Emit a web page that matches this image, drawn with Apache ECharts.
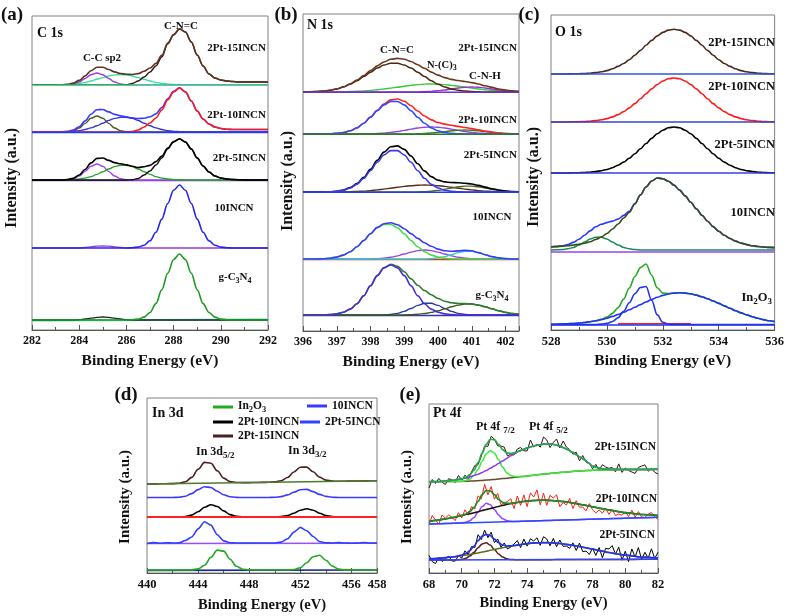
<!DOCTYPE html>
<html><head><meta charset="utf-8">
<script src="https://cdn.jsdelivr.net/npm/echarts/dist/echarts.min.js"></script>
<style>html,body{margin:0;padding:0;background:#fff}#c{width:787px;height:616px}</style>
</head><body><div id="c"></div>
<script>
function seq(a,b,s){const r=[];for(let k=0;a+k*s<=b+1e-9;k++)r.push(Math.round((a+k*s)*100)/100);return r;}
// ---------- x grids ----------
const A_X = seq(282,292,0.25), A_EDGE=[282,292];
const B_X = seq(396,402.4,0.2), B_EDGE=[396,402.4];
const C_X = seq(528,536,0.2), C_EDGE=[528,536], C_RED=[530.4,533];
const D_X = seq(440,458,0.5), D_EDGE=[440,458];
const E_X = [68,68.5,69,69.5].concat(seq(70,78,0.25)).concat([78.5,79,79.5,80,81,82]);
const E_RX = seq(68,82,0.2), E_EDGE=[68,82];
// ---------- panel (a) C 1s ----------
const a_g_main=[10,10,10,10,10,10,10,10,10,10,10,10,10,10,10,10,10,10.3,10.9,12.9,17.5,26.4,40.2,56.7,70.5,76,70.5,56.7,40.2,26.4,17.5,12.9,10.9,10.3,10,10,10,10,10,10,10];
const a_g_cc=[10,10,10,10,10,10,10,10,10.4,11,11.8,12.6,13,12.6,11.8,11,10.4,10,10,10,10,10,10,10,10,10,10,10,10,10,10,10,10,10,10,10,10,10,10,10,10];
const a_g_base=[9.6,10.4];
const a_10_main=[82,82,82,82,82,82,82,82,82,82,82,82,82,82,82,82,82,82.3,82.9,84.8,89.2,97.7,110.9,126.5,139.8,145,139.8,126.5,110.9,97.7,89.2,84.8,82.9,82.3,82,82,82,82,82,82,82];
const a_10_cc=[82,82,82,82,82,82,82,82,82,82.5,83.2,83.8,84,83.8,83.2,82.5,82,82,82,82,82,82,82,82,82,82,82,82,82,82,82,82,82,82,82,82,82,82,82,82,82];
const a_5_env=[150,150,150,150,150,150,150.5,151.8,155,160.5,167.1,171.6,172,169.6,167.4,166.2,165.1,163.7,162.5,163.3,164.6,168.4,173.9,182,188.4,191.2,188,181,172,164,158,154,152,151,150.5,150.2,150,150,150,150,150];
const a_5_main=[150,150,150,150,150,150,150,150,150,150,150,150,150,150,150,150,150,150.3,151.5,155,159,165,172,181,188,191,188,181,172,164,158,154,152,151,150.5,150.2,150,150,150,150,150];
const a_5_cc1=[150,150,150,150,150,150,150.3,151.4,154,158.6,163.7,166,163.7,158.6,154,151.4,150.3,150,150,150,150,150,150,150,150,150,150,150,150,150,150,150,150,150,150,150,150,150,150,150,150];
const a_5_cc2=[150,150,150,150,150,150,150.2,150.4,151,151.9,153.4,155.6,158.3,161,163.4,164.8,164.8,163.4,161,158.3,155.6,153.4,151.9,151,150.4,150.2,150,150,150,150,150,150,150,150,150,150,150,150,150,150,150];
const a_10i_env=[198,198,198,198,198,198.1,198.6,200,203.3,209.1,215.8,220.2,220.5,218.1,215.6,214.2,213.1,212.1,211.5,211.8,213.2,216.1,222.5,231.3,238.6,242.3,238.1,229,219,211,206,203,201.5,200.8,200.5,200.5,200.5,200.5,200.5,200.5,200.5];
const a_10i_main=[198,198,198,198,198,198,198,198,198,198,198,198,198,198,198,198,198,198.5,200,203,207,212,220,230,238,242,238,229,219,211,206,203,201.5,200.8,200.5,200.5,200.5,200.5,200.5,200.5,200.5];
const a_10i_cc1=[198,198,198,198,198,198,198.3,199.4,202,206.6,211.7,214,211.7,206.6,202,199.4,198.3,198,198,198,198,198,198,198,198,198,198,198,198,198,198,198,198,198,198,198,198,198,198,198,198];
const a_10i_cc2=[198,198,198,198,198,198.1,198.3,198.6,199.3,200.5,202.1,204.2,206.8,209.5,211.6,212.8,212.8,211.6,209.5,206.8,204.2,202.1,200.5,199.3,198.6,198.3,198.1,198,198,198,198,198,198,198,198,198,198,198,198,198,198];
const a_15_env=[245,245,245,245,245,245.2,245.8,246.9,249.6,254.1,259.3,262.7,262.7,260.5,258.1,256.5,255.7,255.5,256.4,258.7,262,266.6,274.6,286.9,295.5,301.2,298,288,275,264,256,252,250,249,248.5,248,248,248,248,248,248];
const a_15_main=[245,245,245,245,245,245,245,245,245,245,245,245,245,245,245,245,245.3,246.5,249,253,258,264,273,286,295,301,298,288,275,264,256,252,250,249,248.5,248,248,248,248,248,248];
const a_15_cc1=[245,245,245,245,245,245,245.3,246,248,251.5,255.3,257,255.3,251.5,248,246,245.3,245,245,245,245,245,245,245,245,245,245,245,245,245,245,245,245,245,245,245,245,245,245,245,245];
const a_15_cc2=[245,245,245,245,245,245.2,245.5,245.9,246.6,247.6,249,250.7,252.4,254,255.1,255.5,255.1,254,252.4,250.7,249,247.6,246.6,245.9,245.5,245.2,245,245,245,245,245,245,245,245,245,245,245,245,245,245,245];
// ---------- panel (b) N 1s ----------
const b_g_main=[16,16,16,16,16.4,17.1,18.7,21.9,27.3,35.3,45.3,55.4,63.1,66,63.1,55.4,45.3,35.3,27.3,21.9,18.7,17.1,16.4,16,16,16,16,16,16,16,16,16,16];
const b_g_env=[16,16,16,16,16.4,17.1,18.7,21.9,27.3,35.3,45.3,55.4,63.3,66.6,64.7,59.2,52.2,45.7,40.5,36.2,32.5,29.8,28.2,27.5,27.5,27.1,25.9,24.2,22.2,20.2,18.6,17.5,16.8];
const b_g_c2=[16,16,16,16,16,16,16,16,16,16,16,16,16.2,16.6,17.6,19.6,22.5,25.6,27.7,27.7,25.6,22.5,19.6,17.6,16.6,16.2,16,16,16,16,16,16,16];
const b_g_c3=[16,16,16,16,16,16,16,16,16,16,16,16,16,16,16,16.15,16.4,16.8,17.5,18.6,20.2,22.2,24.2,25.9,26.9,26.9,25.9,24.2,22.2,20.2,18.6,17.5,16.8];
const b_10_env=[72,72,72,72.3,72.8,73.9,75.9,79.2,84.2,90.5,97.3,103.6,107.3,108.2,106.3,102.3,97.4,92.6,88.2,84.7,81.9,80.2,79.7,80.1,80.6,80.2,78.4,76.3,74.4,73.1,72.4,72,72];
const b_10_main=[72,72,72,72.3,72.8,73.9,75.9,79.2,84.2,90.5,97.3,103.2,106.5,106.5,103.2,97.3,90.5,84.2,79.2,75.9,73.9,72.8,72.3,72,72,72,72,72,72,72,72,72,72];
const b_10_c2=[72,72,72,72,72,72,72,72,72,72,72,72.4,72.8,73.7,75.1,77,78.9,80.4,81,80.4,78.9,77,75.1,73.7,72.8,72.4,72,72,72,72,72,72,72];
const b_10_c3=[72,72,72,72,72,72,72,72,72,72,72,72,72,72,72,72,72,72,72,72.4,73.1,74.4,76.3,78.4,79.8,79.8,78.4,76.3,74.4,73.1,72.4,72,72];
const b_5_env=[139,139,139,139,139.3,139.8,141,143.4,147.4,153.6,161.7,170.8,178.9,184.2,185.1,181.6,175,167.2,160.1,154.4,150.9,149.1,148.5,148.3,147.8,147,145.6,143.9,142.3,141,140,139.4,139.1];
const b_5_main=[139,139,139,139,139.3,139.8,140.8,143,146.8,152.7,160.3,168.7,176,180.4,180.4,176,168.7,160.3,152.7,146.8,143,140.8,139.8,139.3,139,139,139,139,139,139,139,139,139];
const b_5_c2=[139,139,139,139,139,139,139.2,139.4,139.6,139.9,140.4,141.1,141.9,142.8,143.7,144.6,145.3,145.8,146,145.8,145.3,144.6,143.7,142.8,141.9,141.1,140.4,139.9,139.6,139.4,139.2,139,139];
const b_5_c3=[139,139,139,139,139,139,139,139,139,139,139,139,139,139,139,139,139,139.1,139.4,139.8,140.6,141.7,143,144.2,144.9,144.9,144.2,143,141.7,140.6,139.8,139.4,139.1];
const b_10i_env=[197,197,197,197,197.2,197.6,198.5,200.2,203.1,207.8,214,220.8,227,231.1,232,229.7,225.2,220,215,211.1,208.5,206.9,205.7,204.6,203.5,202.4,201.1,199.9,198.9,198,197.5,197.3,197];
const b_10i_main=[197,197,197,197,197.2,197.6,198.5,200.2,203.1,207.8,213.7,220.3,226.1,229.5,229.5,226.1,220.3,213.7,207.8,203.1,200.2,198.5,197.6,197.2,197,197,197,197,197,197,197,197,197];
const b_10i_c2=[197,197,197,197,197,197,197,197,197,197,197.3,197.5,197.9,198.6,199.5,200.6,201.9,203,203.7,204,203.7,203,201.9,200.6,199.5,198.6,197.9,197.5,197.3,197,197,197,197];
const b_10i_c3=[197,197,197,197,197,197,197,197,197,197,197,197,197,197,197,197,197,197.3,197.5,198,198.6,199.4,200.2,200.8,201,200.8,200.2,199.4,198.6,198,197.5,197.3,197];
const b_15_env=[239,239.2,239.5,239.9,240.7,242.1,244.2,247.2,251,255.4,260.4,265.1,269,271.7,272.6,271.8,269.5,266.2,262.7,258.9,255.9,253.4,251.6,250.5,249.5,248.4,247,245.2,243.6,242,241,240.1,239.6];
const b_15_main=[239,239.2,239.5,239.9,240.7,242,244,246.7,250.3,254.4,258.8,262.9,266,267.8,267.8,266,262.9,258.8,254.4,250.3,246.7,244,242,240.7,239.9,239.5,239.2,239,239,239,239,239,239];
const b_15_c2=[239,239,239,239,239,239.1,239.2,239.5,239.7,240,240.6,241.2,242,242.9,243.8,244.8,245.6,246.4,246.9,247,246.9,246.4,245.6,244.8,243.8,242.9,242,241.2,240.6,240,239.7,239.5,239.2];
const b_15_c3=[239,239,239,239,239,239,239,239,239,239,239,239,239,239,239,239,239,239,239.4,239.6,240.3,241,242,243,243.8,244,243.8,243,242,241,240.3,239.6,239.4];
// ---------- panel (c) O 1s ----------
const c_15=[256,256,256,256,256.2,256.3,256.4,256.8,257.4,258.2,259.4,261.2,263.6,266.5,270.3,274.7,279.6,284.7,289.6,294.1,297.6,299.9,300.7,299.9,297.6,294.1,289.6,284.7,279.6,274.7,270.3,266.5,263.6,261.2,259.4,258.2,257.4,256.8,256.4,256.3,256.2];
const c_10i=[208,208,208,208,208.2,208.3,208.4,208.8,209.4,210.2,211.4,213.1,215.4,218.4,222.1,226.4,231.2,236.2,241.1,245.5,249,251.2,252,251.2,249,245.5,241.1,236.2,231.2,226.4,222.1,218.4,215.4,213.1,211.4,210.2,209.4,208.8,208.4,208.3,208.2];
const c_5=[157,157,157,157,157.2,157.3,157.5,157.8,158.4,159.3,160.5,162.3,164.8,167.9,171.7,176.2,181.2,186.5,191.6,196.2,199.8,202.2,203,202.2,199.8,196.2,191.6,186.5,181.2,176.2,171.7,167.9,164.8,162.3,160.5,159.3,158.4,157.8,157.5,157.3,157.2];
const c_10_main=[83.1,83.4,83.8,84.3,85,85.8,86.8,88.2,90.5,93,96.5,101,106,112,117.5,126,135,143,149,152,151.2,148.8,144.9,139.9,134.1,127.7,121.2,114.8,108.8,103.4,98.7,94.7,91.5,88.9,86.9,85.4,84.3,83.5,83,82.6,82.4];
const c_10_c2=[80.1,80.2,80.4,81.2,82.6,84.9,87.9,90.9,92.7,92.7,90.9,87.9,84.9,82.6,81.2,80.4,80.1,80,80,80,80,80,80,80,80,80,80,80,80,80,80,80,80,80,80,80,80,80,80,80,80];
const c_10_env=[83.2,83.6,84.2,85.5,87.6,90.7,94.7,99.1,103.2,105.7,107.4,108.9,110.9,114.6,118.7,126.4,135.1,143,149,152,151.2,148.8,144.9,139.9,134.1,127.7,121.2,114.8,108.8,103.4,98.7,94.7,91.5,88.9,86.9,85.4,84.3,83.5,83,82.6,82.4];
const c_In_c1=[5.5,5.5,5.5,5.5,5.5,5.5,5.5,5.5,5.5,5.9,6.6,8.5,12.3,18.7,27.3,36.3,42.5,43.5,29.8,15.1,7.8,5.8,5.5,5.5,5.5,5.5,5.5,5.5,5.5,5.5,5.5,5.5,5.5,5.5,5.5,5.5,5.5,5.5,5.5,5.5,5.5];
const c_In_c2=[5.7,5.8,6,6.2,6.5,7,7.5,8.3,9.2,10.4,11.8,13.6,15.5,17.7,20.2,22.7,25.4,28,30.5,32.7,34.6,36,36.9,37.2,36.9,36.2,34.9,33.2,31.2,29,26.6,24.1,21.7,19.3,17.1,15.1,13.3,11.7,10.4,9.3,8.4];
const c_In_env=[5.7,5.8,6,6.2,6.5,7,7.5,8.3,9.2,10.8,12.9,16.6,22.3,30.9,42,53.5,62.4,66,54.8,42.3,36.9,36.5,36.9,37.2,36.9,36.2,34.9,33.2,31.2,29,26.6,24.1,21.7,19.3,17.1,15.1,13.3,11.7,10.4,9.3,8.4];
// ---------- panel (d) In 3d ----------
const d_In2O3=[3,3,3,3,3,3,3,3.1,4.1,7.8,15.6,22.9,21.9,13.8,6.7,3.8,3.1,3,3,3,3,3,3,3.5,5.3,10.2,16.2,17.7,12.8,6.9,3.9,3.1,3,3,3,3,3];
const d_5=[29.5,30.4,29.8,30.3,30,30.1,32.5,36,44.1,51.3,47.9,38.3,32.1,30.3,30,30,30,30,30,30,30,30.9,34.2,40.9,45.6,42.3,36.5,31.5,30.2,30,30.4,30,29.7,30,30.5,30,30];
const d_10i=[56,56,56,56,56,56,56.5,57.9,61.2,65.7,68.3,66.5,62.1,58.4,56.6,56.1,56,56,56,56,56,56.4,57.4,59.8,62.8,64.3,62.8,59.8,57.4,56.4,56.1,56,56,56,56,56,56];
const d_10=[75.5,75.5,75.5,75.5,75.5,75.8,76.8,79.4,83.4,86.3,85.5,81.8,78.2,76.3,75.6,75.5,75.5,75.5,75.5,75.5,75.7,76.4,78.1,80.8,83.3,83.6,81.4,78.6,76.6,75.8,75.5,75.5,75.5,75.5,75.5,75.5,75.5];
const d_15=[89,89.1,89.2,89.3,89.4,89.8,91.2,95.6,103.7,110.6,109.8,102.2,94.9,91.4,90.5,90.4,90.4,90.5,90.6,90.7,91.1,92.3,95.5,101,105.8,105.9,101.2,95.9,92.9,91.9,91.7,91.8,91.9,92,92.1,92.2,92.3];
// ---------- panel (e) Pt 4f ----------
const e_15_bg=[91.3,91.3,91.4,91.5,91.6,91.7,91.9,92.1,92.3,92.6,92.9,93.2,93.6,94,94.4,94.8,95.3,95.7,96.2,96.6,97.1,97.5,98,98.4,98.9,99.3,99.7,100.1,100.5,100.8,101.2,101.5,101.8,102,102.3,102.5,102.7,103,103.2,103.4,103.5,103.6,103.7];
const e_15_c1=[91.3,91.3,91.4,91.5,91.8,92.4,94.1,97.6,103.8,111.8,119.1,122.2,119.8,113.2,105.9,100.3,97.5,96.4,96.4,96.6,97.1,97.5,98,98.4,98.9,99.3,99.7,100.1,100.5,100.8,101.2,101.5,101.8,102,102.3,102.5,102.7,103,103.2,103.4,103.5,103.6,103.7];
const e_15_c2=[91.3,91.5,92,92.8,94.1,95,96.1,97.4,98.8,100.6,102.4,104.7,107.1,109.5,111.9,114.6,117.3,119.5,121.7,123.4,125.1,126.3,127.5,128.2,128.9,129,128.9,128.1,127,125.1,123.2,120.8,118.3,115.7,113.3,110,106.7,104.5,103.7,103.6,103.5,103.6,103.7];
const e_15_env=[91.3,91.5,92,92.8,94.3,95.7,98.3,102.9,110.3,119.8,128.6,133.7,133.3,128.7,123.4,120.1,119.5,120.2,121.9,123.4,125.1,126.3,127.5,128.2,128.9,129,128.9,128.1,127,125.1,123.2,120.8,118.3,115.7,113.3,110,106.7,104.5,103.7,103.6,103.5,103.6,103.7];
const e_15_raw=[85,93.5,89.5,94.6,90.8,88.5,94.3,93.1,90.5,97.6,92.8,97.9,94.2,101,107.5,108.3,117,127,126.6,136.7,133.8,127.2,126.9,125.9,117,119,118,124,125.5,122.2,122.1,133,126,128.8,125.8,136,133,125.5,130.6,134,125,132,126,123.2,118.8,120.8,112.2,117.5,110.8,109.9,104.2,108.6,102.8,108.3,106,104.7,105.6,101.1,109.1,100.6,105,102.5,101,99.6,105.6,107,108.1,101.7,104.7,100.7,99];
const e_10_bg=[49,55.7];
const e_10_c1=[49,49.2,49.5,49.7,50.2,50.7,52.3,55.6,60.8,66.5,69.7,68.3,63.6,58.1,54.3,52.4,51.7,51.5,51.6,51.8,51.9,52,52.1,52.2,52.4,52.5,52.6,52.7,52.8,53,53.1,53.2,53.3,53.4,53.6,53.7,53.8,54,54.3,54.5,54.7,55.2,55.7];
const e_10_c2=[51.6,52.7,54.1,55.6,57.4,58.4,59.3,60.3,61.3,62.5,63.5,64.5,65.6,66.6,67.6,68.5,69.4,70.1,70.8,71.5,71.9,72.3,72.6,72.7,72.8,72.7,72.5,72.2,71.8,71.4,70.8,70.1,69.4,68.6,67.9,67.1,66.2,64.6,63.1,61.6,60.3,58.5,57.5];
const e_10_env=[51.6,52.7,54.1,55.6,57.6,59,61.4,65.6,71.7,78.4,82.5,82,78.3,73.7,70.7,69.6,69.7,70.1,70.8,71.5,71.9,72.3,72.6,72.7,72.8,72.7,72.5,72.2,71.8,71.4,70.8,70.1,69.4,68.6,67.9,67.1,66.2,64.6,63.1,61.6,60.3,58.5,57.5];
const e_10_raw=[48.6,57.5,53,49,58,55,58,55.8,52.4,60.3,55.1,63.2,57.8,66.5,64.1,77.2,74,88.7,78.1,86.4,73.8,79.6,68.3,70,71.5,74.2,64.5,77,67.6,78.1,66.4,80.2,76,83.1,68.2,79.8,67.7,77.6,75,78.1,66.3,70.5,68,74.5,64.5,72.4,65.8,66,62.1,69.4,63.2,60.1,63,59.8,64.7,58.6,63.5,57.4,59,57.8,61.3,56.4,62.8,55.7,61.4,56,55.5,59,60.4,56.2,53.5];
const e_5_bg=[13,13.7];
const e_5_c1=[13,13,13,13,13.6,14.7,16.9,20.7,25.3,29.1,30.2,27.9,23.5,19.1,16,14.2,13.5,13.3,13.3,13.3,13.3,13.3,13.3,13.3,13.35,13.35,13.35,13.4,13.4,13.4,13.4,13.45,13.45,13.45,13.5,13.5,13.5,13.5,13.55,13.6,13.6,13.65,13.7];
const e_5_c2=[14.1,14.6,15.3,16.2,17.3,18,18.6,19.3,20.1,20.9,21.7,22.7,23.5,24.4,25.2,26,26.8,27.5,28.2,28.8,29.4,29.8,30.1,30.2,30.3,30.3,30.2,29.9,29.5,29,28.4,27.8,27,26.3,25.5,24.7,23.8,22.1,20.5,19,17.8,16,14.8];
const e_5_env=[14.1,14.6,15.3,16.2,17.8,19.6,22.4,26.9,32.3,36.8,38.7,37.4,33.8,30.3,28,27,27.1,27.5,28.2,28.8,29.4,29.8,30.1,30.2,30.3,30.3,30.2,29.9,29.5,29,28.4,27.8,27,26.3,25.5,24.7,23.8,22.1,20.5,19,17.8,16,14.8];
const e_5_raw=[17.6,11.3,9.5,15.7,11.5,13.8,17.1,12,11.9,17.4,14.8,22.2,18.7,26.5,25.4,38.3,33.5,42.8,35.4,40.8,30.3,34,25.8,30,24,26,29,32.4,25.4,33.9,26.9,34.2,32,35.2,27.7,36.3,34,27.2,34.6,26.3,33,26.6,27,24.6,30.1,22.5,29.9,21.3,22,18.5,24.8,17.6,25.4,15.3,24.6,24,27.4,18.8,25.8,12.8,21.8,11.4,24.1,16,25.4,13.5,20.7,15,24.2,14.5,20.8];
// ---------- axis ticks ----------
const X_RANGES=[[282,292,2],[396,402.4,1],[528,536,2],[440,458,4],[68,82,2]];
const GRIDS=[[32,16,236,314],[303,14,216,317],[551,15,226,315],[147,398,230,175],[429,404,229,169]];

const FONT='"Liberation Serif","Times New Roman",serif';
const S=[];
function add(g,xs,ys,color,w,extra){
  S.push(Object.assign({type:'line',xAxisIndex:g,yAxisIndex:g,data:xs.map((x,i)=>[x,ys[i]]),
    symbol:'none',showSymbol:false,smooth:0.35,smoothMonotone:'x',
    lineStyle:{color:color,width:w},itemStyle:{color:color},silent:true,animation:false},extra||{}));
}
// (a)
add(0,A_EDGE,a_g_base,'#3fe6b0',2);
add(0,A_X,a_g_cc,'#222',1.3);
add(0,A_X,a_g_main,'#1e9a1e',1.6);
add(0,A_X,a_10_cc,'#9a38d8',1.3);
add(0,A_X,a_10_main,'#2424ee',1.6);
add(0,A_EDGE,[149.5,149.5],'#7a3ad0',1.5);
add(0,A_X,a_5_cc1,'#a040f0',1.4);
add(0,A_X,a_5_cc2,'#28a628',1.4);
add(0,A_X,a_5_main,'#111',1.4);
add(0,A_X,a_5_env,'#000',1.6);
add(0,A_X,a_10i_cc1,'#4a5a12',1.4);
add(0,A_X,a_10i_cc2,'#3535d8',1.4);
add(0,A_X,a_10i_env,'#3a3aff',1.6);
add(0,A_X,a_10i_main,'#ff1a1a',1.6);
add(0,A_EDGE,[197.6,197.6],'#2a3ae8',1.6);
add(0,A_X,a_15_cc2,'#38e0a0',1.4);
add(0,A_X,a_15_cc1,'#9a3ae8',1.4);
add(0,A_X,a_15_main,'#3a1a10',1.4);
add(0,A_X,a_15_env,'#5c3420',1.6);
add(0,A_EDGE,[244.8,244.8],'#3ee08a',1.6);
// (b)
add(1,B_EDGE,[15.6,15.6],'#3333bb',1.5);
add(1,B_X,b_g_c2,'#22379a',1.4);
add(1,B_X,b_g_c3,'#3d5c1a',1.4);
add(1,B_X,b_g_env,'#2e7d32',1.6);
add(1,B_X,b_g_main,'#4b2bd8',1.6);
add(1,B_EDGE,[71.6,71.6],'#e83030',1.5);
add(1,B_X,b_10_c2,'#9944dd',1.4);
add(1,B_X,b_10_c3,'#33cccc',1.4);
add(1,B_X,b_10_main,'#44dd44',1.6);
add(1,B_X,b_10_env,'#3a3aff',1.6);
add(1,B_X,b_5_c2,'#5a2a1a',1.4);
add(1,B_X,b_5_c3,'#4a6a1a',1.4);
add(1,B_X,b_5_env,'#000',1.6);
add(1,B_X,b_5_main,'#3a3aee',1.6);
add(1,B_EDGE,[138.7,138.7],'#2a3ae8',1.5);
add(1,B_X,b_10i_c2,'#9944dd',1.4);
add(1,B_X,b_10i_c3,'#3a7a1a',1.4);
add(1,B_X,b_10i_env,'#ff2020',1.6);
add(1,B_X,b_10i_main,'#2a4dff',1.6);
add(1,B_EDGE,[196.7,196.7],'#2d7a2d',1.5);
add(1,B_X,b_15_c2,'#33cc33',1.4);
add(1,B_X,b_15_c3,'#9933cc',1.4);
add(1,B_X,b_15_main,'#4a2510',1.5);
add(1,B_X,b_15_env,'#6a3a1e',1.6);
add(1,B_EDGE,[238.8,238.8],'#6a33cc',1.5);
// (c)
add(2,C_RED,[6.3,6.3],'#ee2222',1.6);
add(2,C_X,c_In_env,'#22aa22',1.6);
add(2,C_X,c_In_c2,'#2233ee',1.6);
add(2,C_X,c_In_c1,'#2233ee',1.6);
add(2,C_EDGE,[5,5],'#2233ee',1.6);
add(2,C_EDGE,[78,78],'#9944ee',1.6);
add(2,C_X,c_10_env,'#2a3aff',1.6);
add(2,C_X,c_10_c2,'#1a8a5a',1.5);
add(2,C_X,c_10_main,'#3b4d12',1.6);
add(2,C_X,c_5,'#000',1.6);
add(2,C_EDGE,[157,157],'#3344dd',1.6);
add(2,C_X,c_10i,'#ff1a1a',1.6);
add(2,C_EDGE,[208,208],'#3344cc',1.6);
add(2,C_X,c_15,'#4a2a1a',1.6);
add(2,C_EDGE,[256,256],'#3355dd',1.6);
// (d)
add(3,D_EDGE,[2.6,3],'#1a2a8a',1.6);
add(3,D_X,d_In2O3,'#22aa22',1.6,{name:'d_In2O3'});
add(3,D_EDGE,[29.5,29.8],'#9a4dff',1.6);
add(3,D_X,d_5,'#3040ff',1.6,{name:'d_2Pt-5INCN',smooth:0.25});
add(3,D_X,d_10i,'#000',1.6,{name:'d_2Pt-10INCN'});
add(3,D_EDGE,[56,56],'#ff2020',2);
add(3,D_X,d_10,'#3a3aff',1.6,{name:'d_10INCN'});
add(3,D_X,d_15,'#4a2020',1.6,{name:'d_2Pt-15INCN'});
add(3,D_EDGE,[89,92.3],'#4d7a2d',1.6);
// (e)
add(4,E_RX,e_5_raw,'#000',1,{smooth:false});
add(4,E_X,e_5_c1,'#5a1a1a',1.5);
add(4,E_X,e_5_c2,'#5a6a1a',1.5);
add(4,E_EDGE,e_5_bg,'#3344ff',1.6);
add(4,E_X,e_5_env,'#2233ee',1.7);
add(4,E_RX,e_10_raw,'#ff1a1a',1,{smooth:false});
add(4,E_X,e_10_c1,'#9944ff',1.5);
add(4,E_EDGE,e_10_bg,'#2a4aff',1.6);
add(4,E_X,e_10_c2,'#111',1.5);
add(4,E_X,e_10_env,'#228b22',1.7);
add(4,E_RX,e_15_raw,'#3a1010',1,{smooth:false});
add(4,E_X,e_15_bg,'#6a4a2a',1.5);
add(4,E_X,e_15_c1,'#33ee33',1.5);
add(4,E_X,e_15_c2,'#9933ee',1.5);
add(4,E_X,e_15_env,'#22aa44',1.7);

const grid=GRIDS.map(g=>({left:g[0],top:g[1],width:g[2],height:g[3],show:true,borderColor:'#808080',borderWidth:1,backgroundColor:'transparent',containLabel:false}));
const YMAX=[314,317,315,175,169];
const NAMEGAP=[23,23,23,25,23];
const NAMESIZE=[15.5,15.5,15.5,14.5,14.5];
const LBLSIZE=[12,12,12.5,12.5,12.5];
const xAxis=X_RANGES.map((r,g)=>({type:'value',gridIndex:g,min:r[0],max:r[1],interval:r[2],
  name:'Binding Energy (eV)',nameLocation:'middle',nameGap:NAMEGAP[g],
  nameTextStyle:{fontFamily:FONT,fontWeight:'bold',fontSize:NAMESIZE[g],color:'#111'},
  axisLine:{show:true,onZero:false,lineStyle:{color:'#555',width:1}},
  axisTick:{show:true,inside:true,length:5,lineStyle:{color:'#555'}},
  minorTick:{show:true,splitNumber:2,length:3,lineStyle:{color:'#555'}},
  axisLabel:{fontFamily:FONT,fontWeight:'bold',fontSize:LBLSIZE[g],color:'#111',margin:5},
  splitLine:{show:false}}));
const yAxis=YMAX.map((m,g)=>({type:'value',gridIndex:g,min:0,max:m,show:false}));

function T(x,y,text,size,align,extra){
  return Object.assign({type:'text',x:x,y:y,silent:true,
    style:{text:text,fill:'#111',font:'bold '+size+'px '+FONT,align:align||'left',verticalAlign:'middle'}},extra||{});
}
function R(x,y,text,size,align){
  return {type:'text',x:x,y:y,silent:true,style:{text:text,fill:'#111',align:align||'left',verticalAlign:'middle',
    rich:{n:{fontFamily:FONT,fontWeight:'bold',fontSize:size,lineHeight:size+2,verticalAlign:'top',fill:'#111'},
          s:{fontFamily:FONT,fontWeight:'bold',fontSize:Math.round(size*0.72),lineHeight:Math.round(size*0.72),verticalAlign:'bottom',fill:'#111'}}}};
}
function V(x,y,size){return T(x,y,'Intensity (a.u.)',size,'center',{rotation:Math.PI/2});}
const graphic=[
  T(12,15,'(a)',19,'center'), T(37,33,'C 1s',14), T(181,26,'C-N=C',11,'center'), T(102,58,'C-C sp2',11,'center'),
  T(266,48,'2Pt-15INCN',11,'right'), T(266,115,'2Pt-10INCN',11,'right'), T(266,158,'2Pt-5INCN',11,'right'),
  T(234,208,'10INCN',11,'center'), R(235,278,'{n|g-C}{s|3}{n|N}{s|4}',11,'center'), V(12,178,16),
  T(286,15,'(b)',19,'center'), T(307,25,'N 1s',14), T(517,48,'2Pt-15INCN',11,'right'), T(397,50,'C-N=C',11,'center'),
  R(427,66,'{n|N-(C)}{s|3}',10.5,'left'), T(485,76,'C-N-H',11,'center'),
  T(517,120,'2Pt-10INCN',11,'right'), T(517,155,'2Pt-5INCN',11,'right'), T(492,217,'10INCN',11,'center'),
  R(492,296,'{n|g-C}{s|3}{n|N}{s|4}',11,'center'), V(288,181,16),
  T(529,15,'(c)',19,'center'), T(555,32,'O 1s',14), T(775,43,'2Pt-15INCN',12.5,'right'), T(775,87,'2Pt-10INCN',12.5,'right'),
  T(775,145,'2Pt-5INCN',12.5,'right'), T(775,213,'10INCN',12.5,'right'), R(772,299,'{n|In}{s|2}{n|O}{s|3}',12.5,'right'), V(534,177,16),
  T(126,395,'(d)',19,'center'), T(152,413,'In 3d',14), R(196,453,'{n|In 3d}{s|5/2}',12,'left'), R(288,452,'{n|In 3d}{s|3/2}',12,'left'),
  V(125,497,15),
  T(410,395,'(e)',19,'center'), T(433,413,'Pt 4f',14), R(476,428,'{n|Pt 4f }{s|7/2}',12,'left'), R(529,428,'{n|Pt 4f }{s|5/2}',12,'left'),
  T(656,447,'2Pt-15INCN',11.5,'right'), T(657,499,'2Pt-10INCN',11.5,'right'), T(655,535,'2Pt-5INCN',11.5,'right'),
  V(407,497,15)
];
const LEG_LABEL={'d_In2O3':'{n|In}{s|2}{n|O}{s|3}','d_10INCN':'10INCN','d_2Pt-10INCN':'2Pt-10INCN','d_2Pt-5INCN':'2Pt-5INCN','d_2Pt-15INCN':'2Pt-15INCN'};
function LG(name,left,top){
  return {data:[name],left:left,top:top,orient:'horizontal',padding:0,itemWidth:20,itemHeight:3,icon:'rect',selectedMode:false,
    formatter:n=>LEG_LABEL[n],
    textStyle:{fontFamily:FONT,fontWeight:'bold',fontSize:11.5,color:'#111',
      rich:{n:{fontFamily:FONT,fontWeight:'bold',fontSize:11.5,lineHeight:14,verticalAlign:'top'},
            s:{fontFamily:FONT,fontWeight:'bold',fontSize:8.5,lineHeight:8,verticalAlign:'bottom'}}}};
}
const legend=[LG('d_In2O3',213,400),LG('d_10INCN',307,400),LG('d_2Pt-10INCN',213,416),LG('d_2Pt-5INCN',300,416),LG('d_2Pt-15INCN',213,430)];

const chart=echarts.init(document.getElementById('c'),null,{renderer:'canvas'});
chart.setOption({animation:false,backgroundColor:'#fff',grid:grid,xAxis:xAxis,yAxis:yAxis,series:S,graphic:graphic,legend:legend});
</script></body></html>
